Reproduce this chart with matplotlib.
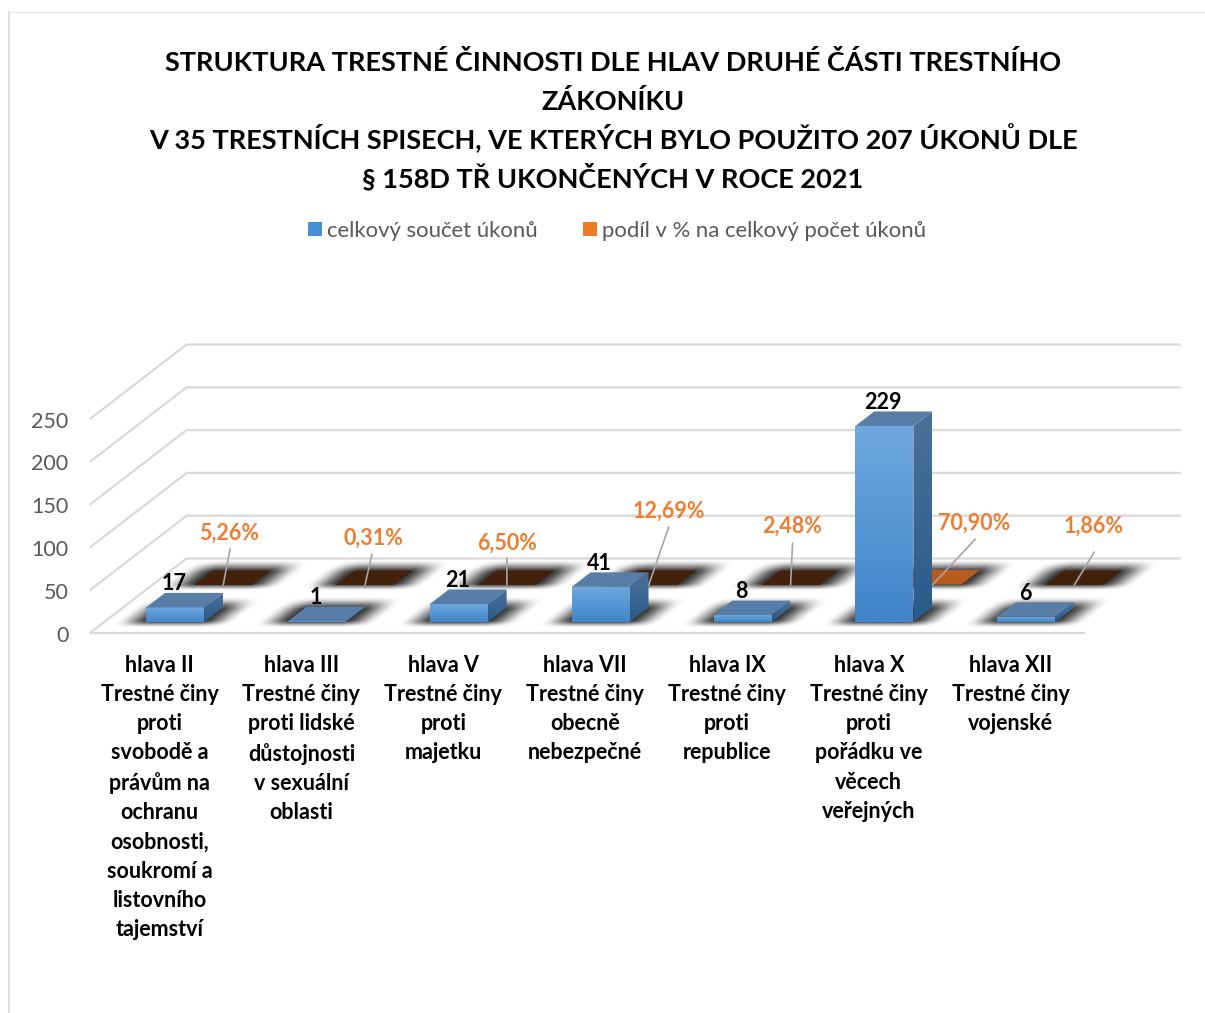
import numpy as np
import matplotlib
matplotlib.use("Agg")
import matplotlib.pyplot as plt
from matplotlib.patches import Polygon, Patch
from matplotlib.colors import to_rgb
from matplotlib.transforms import ScaledTranslation

plt.rcParams['font.family'] = ['Lato', 'Open Sans', 'DejaVu Sans']

# ---- data ----
title_lines = ["STRUKTURA TRESTNÉ ČINNOSTI DLE HLAV DRUHÉ ČÁSTI TRESTNÍHO",
               "ZÁKONÍKU",
               "V 35 TRESTNÍCH SPISECH, VE KTERÝCH BYLO POUŽITO 207 ÚKONŮ DLE",
               "§ 158D TŘ UKONČENÝCH V ROCE 2021"]
categories = ["hlava II\nTrestné činy\nproti\nsvobodě a\nprávům na\nochranu\nosobnosti,\nsoukromí a\nlistovního\ntajemství",
              "hlava III\nTrestné činy\nproti lidské\ndůstojnosti\nv sexuální\noblasti",
              "hlava V\nTrestné činy\nproti\nmajetku",
              "hlava VII\nTrestné činy\nobecně\nnebezpečné",
              "hlava IX\nTrestné činy\nproti\nrepublice",
              "hlava X\nTrestné činy\nproti\npořádku ve\nvěcech\nveřejných",
              "hlava XII\nTrestné činy\nvojenské"]
series_total_name = "celkový součet úkonů"
series_share_name = "podíl v % na celkový počet úkonů"
totals = [17, 1, 21, 41, 8, 229, 6]
shares = [5.26, 0.31, 6.50, 12.69, 2.48, 70.90, 1.86]
share_labels = ["5,26%", "0,31%", "6,50%", "12,69%", "2,48%", "70,90%", "1,86%"]
y_ticks = [0, 50, 100, 150, 200, 250]

# ---- layout ----
W, H = 1205, 1013
PX_X = 141.85         # pixels per category
PX_Y = 214/250        # pixels per value unit
fig = plt.figure(figsize=(W/100, H/100), dpi=100, facecolor='white')
ax = fig.add_axes([90.6/W, (H-632.5)/H, 7*PX_X/W, 214/H])
ax.patch.set_alpha(0)
for s in ax.spines.values():
    s.set_visible(False)

DX = 96/PX_X          # depth shift in category units
DY = 74/PX_Y          # depth shift in value units
BAR_W = 58/PX_X
ROW1 = (0.142, 0.338)
ROW2 = (0.642, 0.838)
GRID = '#d9d9d9'


def P(c, v, d):
    return (c + DX*d, v + DY*d)


def sm(t, a, b):
    s = np.clip((t-a)/(b-a), 0, 1)
    return s*s*(3-2*s)


def shadow(c, d0, d1, z=1):
    # soft blurred shadow on the floor around a bar's footprint, worked out in pixel units
    x0 = c - BAR_W/2
    fx, fy = P(x0, 0, d0)
    depth_px = (d1-d0)*74
    skew = 96/74
    w_px = BAR_W*PX_X
    xs = np.linspace(-45, w_px+depth_px*skew+45, 240)
    ys = np.linspace(-10, depth_px+14, 90)
    xx, yy = np.meshgrid(xs, ys)
    u = xx - skew*yy
    ax_a = sm(u, -32, 4)*(1-sm(u, w_px-4, w_px+32))
    ay_a = sm(yy, -6, 2)*(1-sm(yy, depth_px-3, depth_px+11))
    rgba = np.zeros(xx.shape+(4,))
    rgba[..., 3] = 0.82*ax_a*ay_a
    im = ax.imshow(rgba, extent=(fx+xs[0]/PX_X, fx+xs[-1]/PX_X, fy+ys[0]/PX_Y, fy+ys[-1]/PX_Y),
                   origin='lower', aspect='auto', zorder=z, interpolation='bilinear')
    im.set_clip_on(False)


def grad_face(pts, top, bottom, z):
    xs = [p[0] for p in pts]
    ys = [p[1] for p in pts]
    t, b = np.array(to_rgb(top)), np.array(to_rgb(bottom))
    g = np.linspace(0, 1, 64)[:, None, None]
    arr = t*(1-g) + b*g
    im = ax.imshow(arr, extent=(min(xs), max(xs), min(ys), max(ys)), origin='upper',
                   aspect='auto', zorder=z, interpolation='bilinear')
    clip = Polygon(pts, closed=True, transform=ax.transData)
    im.set_clip_box(fig.bbox)
    im.set_clip_path(clip)


def bar3d(c, v, d0, d1, z):
    x0, x1 = c - BAR_W/2, c + BAR_W/2
    grad_face([P(x0, 0, d0), P(x1, 0, d0), P(x1, v, d0), P(x0, v, d0)], '#6fa8de', '#4085c8', z)
    grad_face([P(x1, 0, d0), P(x1, 0, d1), P(x1, v, d1), P(x1, v, d0)], '#4c7199', '#2a5a89', z)
    ax.add_patch(Polygon([P(x0, v, d0), P(x1, v, d0), P(x1, v, d1), P(x0, v, d1)], closed=True,
                         fc='#587da6', ec='none', zorder=z+0.1, clip_on=False))


# walls and floor grid
left, right = -0.5, 6.5
for t in y_ticks:
    pts = [P(left, t, 0), P(left, t, 1), P(right, t, 1)]
    ax.plot(*zip(*pts), color=GRID, lw=1.6, zorder=0.5, clip_on=False, solid_joinstyle='miter')
ax.plot(*zip(P(left, 0, 0), P(right, 0, 0)), color=GRID, lw=1.6, zorder=0.5, clip_on=False)

# back row: share series
for i, val in enumerate(shares):
    shadow(i, *ROW2, z=1)
for i, val in enumerate(shares):
    x0, x1 = i - BAR_W/2, i + BAR_W/2
    h = val/100
    colour = '#b85c1d' if val > 50 else '#43210b'
    ax.add_patch(Polygon([P(x0, h, ROW2[0]), P(x1, h, ROW2[0]), P(x1, h, ROW2[1]), P(x0, h, ROW2[1])],
                         closed=True, fc=colour, ec='none', zorder=2, clip_on=False))

# front row: total series
for i, val in enumerate(totals):
    shadow(i, *ROW1, z=3)
for i, val in enumerate(totals):
    bar3d(i, val, *ROW1, z=4)
    ax.annotate(str(val), xy=P(i, val, ROW1[1]), xytext=(-20, 9), textcoords='offset pixels',
                ha='center', va='center', fontsize=15.5, fontweight='bold', color='black',
                zorder=8, annotation_clip=False)

# share labels with leader lines (offsets in pixels from the floor spot of each share)
line_off = [(7, 36), (7, 31), (0, 27), (20, 58), (2, 42), (43, 46), (20, 33)]
label_off = [(6, 52), (8, 47), (0, 42), (20, 74), (2, 59), (42, 62), (19, 59)]
for i, lab in enumerate(share_labels):
    xy = P(i, 0, ROW2[0])
    ax.annotate('', xy=xy, xytext=line_off[i], textcoords='offset pixels',
                arrowprops=dict(arrowstyle='-', color='#a6a6a6', lw=1.2, shrinkA=0, shrinkB=0),
                zorder=7, annotation_clip=False)
    ax.annotate(lab, xy=xy, xytext=label_off[i], textcoords='offset pixels', ha='center', va='center',
                fontsize=15.5, fontweight='bold', color='#ed7d31', zorder=8, annotation_clip=False)

# axes
ax.set_xlim(left, right)
ax.set_ylim(0, 250)
ax.set_yticks(y_ticks)
ax.tick_params(axis='y', length=0, pad=16, labelsize=15.5, labelcolor='#595959')
down = ScaledTranslation(0, -1/100, fig.dpi_scale_trans)
for lab in ax.get_yticklabels():
    lab.set_transform(lab.get_transform() + down)
ax.set_xticks(range(len(categories)))
ax.set_xticklabels(categories, fontsize=15.5, fontweight='bold', color='black',
                   linespacing=1.48, multialignment='center')
ax.tick_params(axis='x', length=0, pad=16.2)
shift_left = ScaledTranslation(-2/100, 0, fig.dpi_scale_trans)
for lab in ax.get_xticklabels():
    lab.set_transform(lab.get_transform() + shift_left)

# title
for line, base in zip(title_lines, [71, 110, 149, 187]):
    fig.text(613/W, 1-base/H, line, ha='center', va='baseline', fontsize=19.55,
             fontweight='bold', color='black')

# legend
handles = [Patch(fc='#4a8fd6', ec='none'), Patch(fc='#ef7b27', ec='none')]
fig.legend(handles, [series_total_name, series_share_name], loc='center',
           bbox_to_anchor=(617/W, 1-231/H), ncol=2, frameon=False, fontsize=15.9,
           labelcolor='#595959', handlelength=0.62, handleheight=0.62, handletextpad=0.22,
           columnspacing=2.08)

# chart frame
fig.add_artist(plt.Line2D([9/W, 9/W], [0, 1-12/H], color='#d9d9d9', lw=1.2))
fig.add_artist(plt.Line2D([9/W, 1], [1-12/H, 1-12/H], color='#e6e6e6', lw=1.0))

fig.savefig('out.png', dpi=100, facecolor='white')
